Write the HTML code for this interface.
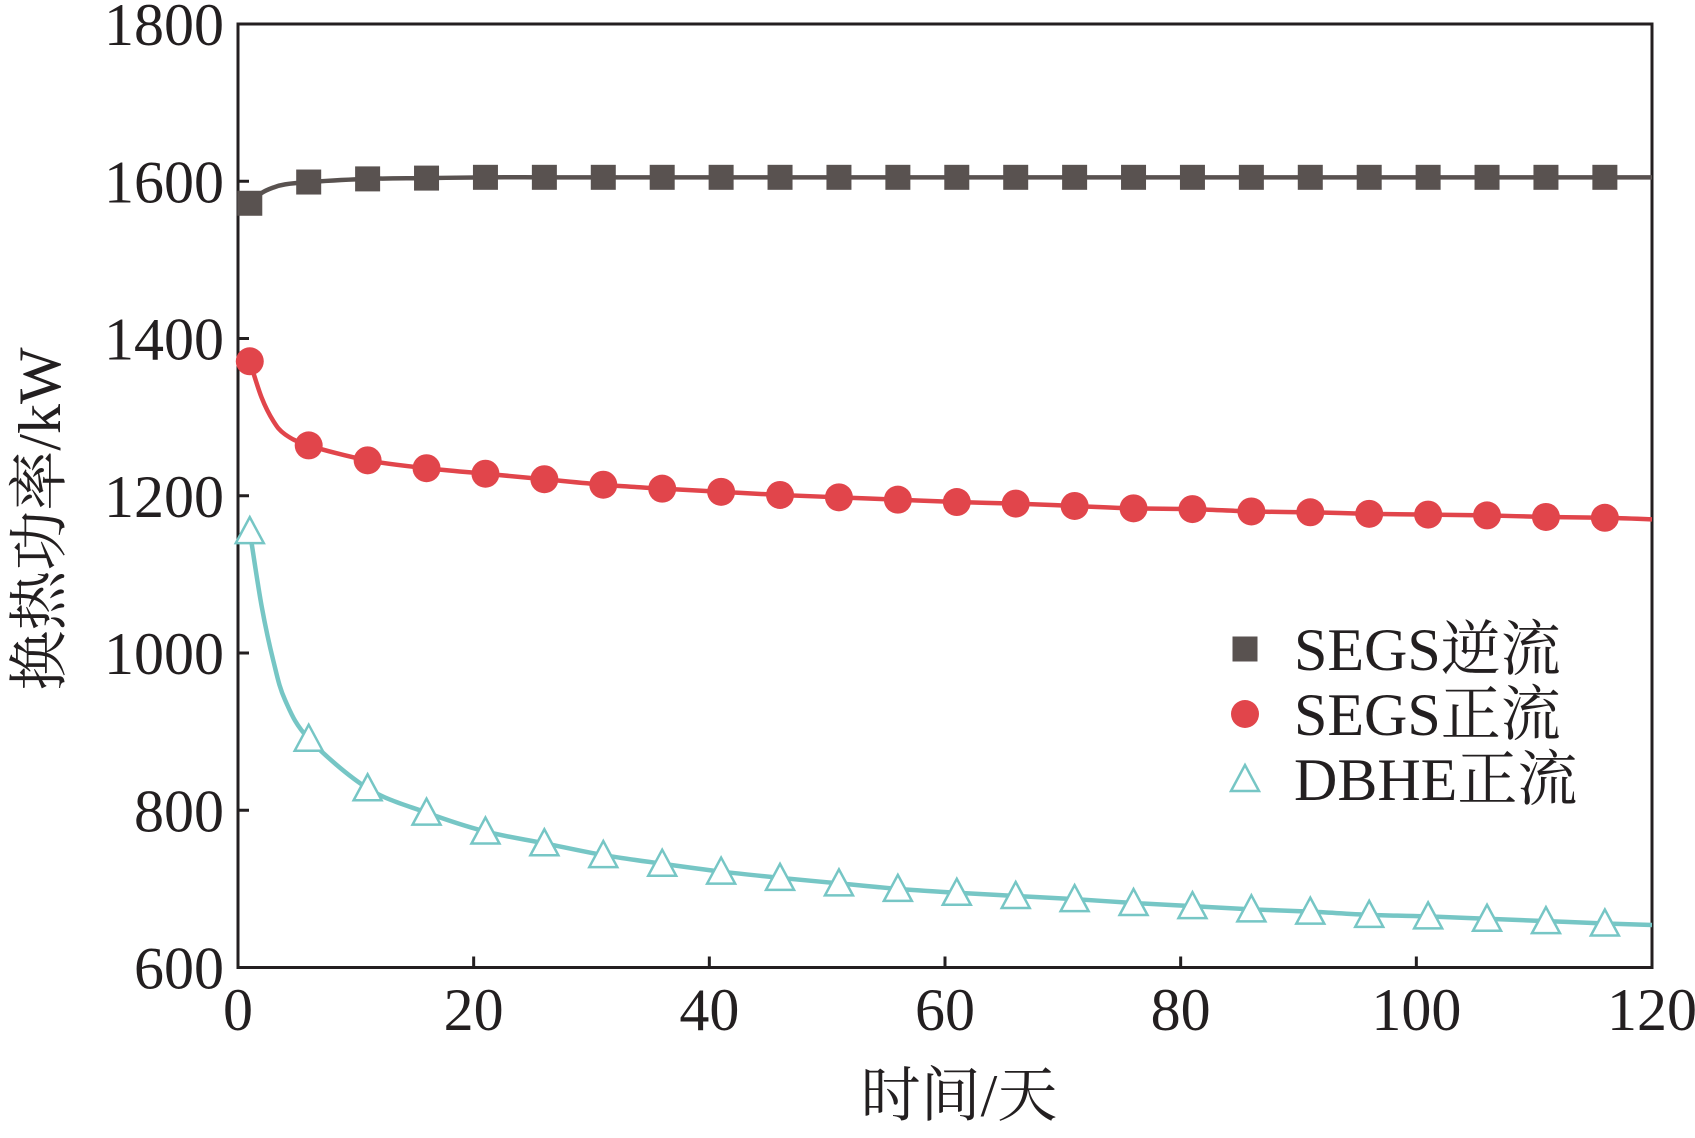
<!DOCTYPE html>
<html><head><meta charset="utf-8"><style>
html,body{margin:0;padding:0;background:#fff;}
svg text{font-family:"Liberation Serif","Noto Serif CJK SC",serif;fill:#231f20;}
</style></head><body>
<svg id="chart" width="1695" height="1133" xmlns="http://www.w3.org/2000/svg">
<g id="axes"></g>
<g id="series"></g>
<g id="legend"></g>
</svg>
<script>
const days=[1,2,3,4,6,11,16,21,26,31,36,41,46,51,56,61,66,71,76,81,86,91,96,101,106,111,116,120];
const markerDays=[1,6,11,16,21,26,31,36,41,46,51,56,61,66,71,76,81,86,91,96,101,106,111,116];
const segsReverse=[1572,1585,1592,1596,1599,1603,1604,1605,1605,1605,1605,1605,1605,1605,1605,1605,1605,1605,1605,1605,1605,1605,1605,1605,1605,1605,1605,1605];
const segsForward=[1371,1325,1295,1278,1264,1245,1235,1228,1221,1214,1209,1205,1201,1198,1195,1192,1190,1187,1184,1183,1180,1179,1177,1176,1175,1173,1172,1170];
const dbheForward=[1155,1060,990,940,891,828,797,773,758,743,732,722,714,707,700,695,691,687,682,678,674,671,667,665,662,659,656,654];
const xTicks=[0,20,40,60,80,100,120];
const yTicks=[600,800,1000,1200,1400,1600,1800];
const seriesNames=["SEGS逆流","SEGS正流","DBHE正流"];

const NS="http://www.w3.org/2000/svg";
const L=238,R=1652,T=24,B=967.5;
const xs=d=>L+(d-0)/120*(R-L);
const ys=v=>B-(v-600)/1200*(B-T);
function mk(tag,attrs,parent){const e=document.createElementNS(NS,tag);for(const k in attrs)e.setAttribute(k,attrs[k]);parent.appendChild(e);return e;}
const axes=document.getElementById('axes'),ser=document.getElementById('series'),leg=document.getElementById('legend');

const frame=mk('rect',{x:L,y:T,width:R-L,height:B-T,fill:'none',stroke:'#231f20','stroke-width':3},axes);


xTicks.forEach(t=>{
  const x=xs(t);
  const tk=mk('line',{x1:x,x2:x,y1:B,y2:B-11,stroke:'#231f20','stroke-width':3},axes);
  
  
  const lb=mk('text',{x:x,y:1030,'text-anchor':'middle','font-size':60},axes);
  lb.textContent=t;
  
  
});
yTicks.forEach(t=>{
  const y=ys(t);
  const tk=mk('line',{x1:L,x2:L+11,y1:y,y2:y,stroke:'#231f20','stroke-width':3},axes);
  
  
  const lb=mk('text',{x:224,y:y+21,'text-anchor':'end','font-size':60},axes);
  lb.textContent=t;
  
  
});
const xt=mk('text',{x:959,y:1116,'text-anchor':'middle','font-size':60},axes);
xt.textContent='时间/天';


const yt=mk('text',{x:0,y:0,'text-anchor':'middle','font-size':60,transform:'translate(60,519) rotate(-90)'},axes);
yt.textContent='换热功率/kW';



function smoothPath(vals){
  const p=days.map((d,i)=>[xs(d),ys(vals[i])]);
  let s='M'+p[0][0]+','+p[0][1];
  for(let i=0;i<p.length-1;i++){
    const p0=p[Math.max(0,i-1)],p1=p[i],p2=p[i+1],p3=p[Math.min(p.length-1,i+2)];
    const c1=[p1[0]+(p2[0]-p0[0])/6,p1[1]+(p2[1]-p0[1])/6];
    const c2=[p2[0]-(p3[0]-p1[0])/6,p2[1]-(p3[1]-p1[1])/6];
    s+=' C'+c1+' '+c2+' '+p2;
  }
  return s;
}
function valAt(vals,d){return vals[days.indexOf(d)];}
function marker(type,x,y,color,parent){
  let e;
  if(type==='square')e=mk('rect',{x:x-12.5,y:y-12.5,width:25,height:25,fill:color},parent);
  else if(type==='circle')e=mk('circle',{cx:x,cy:y,r:14,fill:color},parent);
  else e=mk('polygon',{points:`${x},${y-14} ${x-14},${y+12} ${x+14},${y+12}`,fill:'#fff',stroke:color,'stroke-width':2.5},parent);
  return e;
}
const defs=[[segsReverse,'#595250','square','segs-reverse'],[segsForward,'#e1454b','circle','segs-forward'],[dbheForward,'#76c6c5','triangle','dbhe-forward']];
defs.forEach(([vals,color,type,name],k)=>{
  const g=mk('g',{},ser);
  
  
  const ln=mk('path',{d:smoothPath(vals),fill:'none',stroke:color,'stroke-width':4.5},g);
  
  
  markerDays.forEach(d=>{
    const m=marker(type,xs(d),ys(valAt(vals,d)),color,g);
    
    
  });
  const ly=649+k*65;
  const lm=marker(type,1245,ly,color,leg);
  
  
  const lt=mk('text',{x:1294,y:ly+21,'font-size':60},leg);
  lt.textContent=seriesNames[k];
  
  
});
</script>
</body></html>
